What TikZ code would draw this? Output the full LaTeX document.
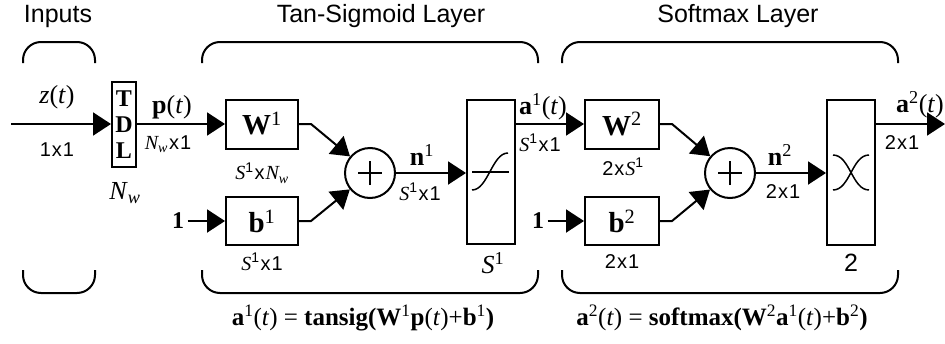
\documentclass[tikz,border=0pt]{standalone}
\usepackage{fontspec}
\setmainfont{Liberation Serif}
\newfontfamily\hvfont{Liberation Sans}
\usepackage{tikz}
\usetikzlibrary{arrows.meta,positioning}
\newcommand{\sz}[1]{\fontsize{#1}{#1}\selectfont}
\newcommand{\up}[1]{\textsuperscript{\mdseries\upshape #1}}
\newcommand{\ms}[1]{{\normalfont\itshape #1}}
\newcommand{\bx}[2]{#1\hspace{1pt}x\hspace{1pt}#2}
\tikzset{
  blk/.style={draw,line width=2pt,inner sep=0pt,font=\sz{29}\bfseries},
  sumnode/.style={draw,circle,line width=2pt,minimum size=50pt,inner sep=0pt},
  arr/.style={line width=2pt,-{Triangle[length=18pt,width=23pt]}},
  wire/.style={line width=2pt},
  curve/.style={line width=1.5pt},
  brk/.style={line width=2pt,rounded corners=18pt},
  ttl/.style={font=\hvfont\sz{25}},
  dimlbl/.style={font=\hvfont\sz{20}},
  sig/.style={font=\sz{26}},
}

\begin{document}
\begin{tikzpicture}[x=1pt,y=-1pt]
  \useasboundingbox (0,0) rectangle (945,343);
  \node[ttl] (inttl) at (58,16) {Inputs};
  \node[ttl] (l1ttl) at (381,16) {Tan-Sigmoid Layer};
  \node[ttl] (l2ttl) at (738,16) {Softmax Layer};
  \draw[brk] (23,63) -- (23,42) -- (95,42) -- (95,63);
  \draw[brk] (23,270) -- (23,293) -- (95,293) -- (95,270);
  \draw[brk] (202,63) -- (202,42) -- (538,42) -- (538,63);
  \draw[brk] (202,270) -- (202,293) -- (538,293) -- (538,270);
  \draw[brk] (562,63) -- (562,42) -- (898,42) -- (898,63);
  \draw[brk] (562,270) -- (562,293) -- (898,293) -- (898,270);
  \node[blk,minimum width=24pt,minimum height=85pt,align=center,
    font=\fontsize{24}{26}\selectfont\bfseries] (tdl) at (124,124.5) {T\\D\\L};
  \node[blk,minimum width=72pt,minimum height=49pt] (w1) at (262,124) {W\up{1}};
  \node[blk,minimum width=72pt,minimum height=48pt] (b1) at (262,221) {b\up{1}};
  \node[sumnode] (sum1) at (370,173) {};
  \node[blk,minimum width=48pt,minimum height=144pt] (tf1) at (491,172) {};
  \node[blk,minimum width=74pt,minimum height=49pt] (w2) at (622,124) {W\up{2}};
  \node[blk,minimum width=74pt,minimum height=48pt] (b2) at (622,221) {b\up{2}};
  \node[sumnode] (sum2) at (730,173) {};
  \node[blk,minimum width=48pt,minimum height=145pt] (tf2) at (851,172) {};
  \node[sig,font=\sz{24}\bfseries] (one1) at (178,221) {1};
  \node[sig,font=\sz{24}\bfseries] (one2) at (538,221) {1};
  \coordinate (zin) at (11,124);
  \coordinate (zout) at (945,124);
  \draw[arr] (zin) -- (tdl.west |- zin);
  \draw[arr] (tdl.east |- zin) -- (w1.west);
  \draw[arr] (one1) -- (b1.west);
  \draw[arr] (w1.east) -- ++(12,0) -- (sum1);
  \draw[arr] (b1.east) -- ++(12,0) -- (sum1);
  \draw[arr] (sum1.east) -- (sum1.east -| tf1.west);
  \draw[arr] (tf1.east |- w2.west) -- (w2.west);
  \draw[arr] (one2) -- (b2.west);
  \draw[arr] (w2.east) -- ++(12,0) -- (sum2);
  \draw[arr] (b2.east) -- ++(12,0) -- (sum2);
  \draw[arr] (sum2.east) -- (sum2.east -| tf2.west);
  \draw[arr] (tf2.east |- zout) -- (zout);
  \draw[curve] ([xshift=-12pt]sum1.center) -- ([xshift=12pt]sum1.center)
    ([yshift=-12pt]sum1.center) -- ([yshift=12pt]sum1.center);
  \draw[curve] ([xshift=-12pt]sum2.center) -- ([xshift=12pt]sum2.center)
    ([yshift=-12pt]sum2.center) -- ([yshift=12pt]sum2.center);
  \draw[curve] ([xshift=-19pt]tf1.center) -- ([xshift=18pt]tf1.center);
  \draw[curve] ([shift={(-19,18)}]tf1.center) .. controls +(16,0) and +(-16,0) .. ([shift={(17,-19)}]tf1.center);
  \draw[curve] ([shift={(-18,-17)}]tf2.center) .. controls +(17,0) and +(-17,0) .. ([shift={(18,18)}]tf2.center);
  \draw[curve] ([shift={(18,-17)}]tf2.center) .. controls +(-17,0) and +(17,0) .. ([shift={(-18,18)}]tf2.center);
  \node[sig] (zlbl) at (57,97) {\textit{z}(\textit{t})};
  \node[dimlbl] (zdim) at (57,150) {\bx{1}{1}};
  \node[sig] (nwlbl) at (125,193) {\textit{N}\textsubscript{\textit{w}}};
  \node[sig] (plbl) at (172,107) {\textbf{p}(\textit{t})};
  \node[dimlbl] (pdim) at (168,144) {\bx{\ms{N}\textsubscript{\ms{w}}}{1}};
  \node[dimlbl] (w1dim) at (262,173) {\bx{\ms{S}\up{1}}{\ms{N}\textsubscript{\ms{w}}}};
  \node[dimlbl] (b1dim) at (262,262) {\bx{\ms{S}\up{1}}{1}};
  \node[sig] (n1lbl) at (422,155) {\textbf{n}\up{1}};
  \node[dimlbl] (n1dim) at (420,192) {\bx{\ms{S}\up{1}}{1}};
  \node[sig] (s1lbl) at (493,263) {\textit{S}\up{1}};
  \node[sig] (a1lbl) at (543,107) {\textbf{a}\up{1}(\textit{t})};
  \node[dimlbl] (a1dim) at (540,143) {\bx{\ms{S}\up{1}}{1}};
  \node[dimlbl] (w2dim) at (623,167) {\bx{2}{\ms{S}\up{1}}};
  \node[dimlbl] (b2dim) at (622,262) {\bx{2}{1}};
  \node[sig] (n2lbl) at (780,155) {\textbf{n}\up{2}};
  \node[dimlbl] (n2dim) at (783,192) {\bx{2}{1}};
  \node[ttl] (s2lbl) at (851,263) {2};
  \node[sig] (a2lbl) at (920,105) {\textbf{a}\up{2}(\textit{t})};
  \node[dimlbl] (a2dim) at (902,143) {\bx{2}{1}};
  \node[sig,font=\sz{25}] (eq1) at (363,318) {\textbf{a}\up{1}(\textit{t}) = \textbf{tansig(W}\up{1}\textbf{p}(\textit{t})+\textbf{b}\up{1}\textbf{)}};
  \node[sig,font=\sz{25}] (eq2) at (722,318) {\textbf{a}\up{2}(\textit{t}) = \textbf{softmax(W}\up{2}\textbf{a}\up{1}(\textit{t})+\textbf{b}\up{2}\textbf{)}};
\end{tikzpicture}
\end{document}
